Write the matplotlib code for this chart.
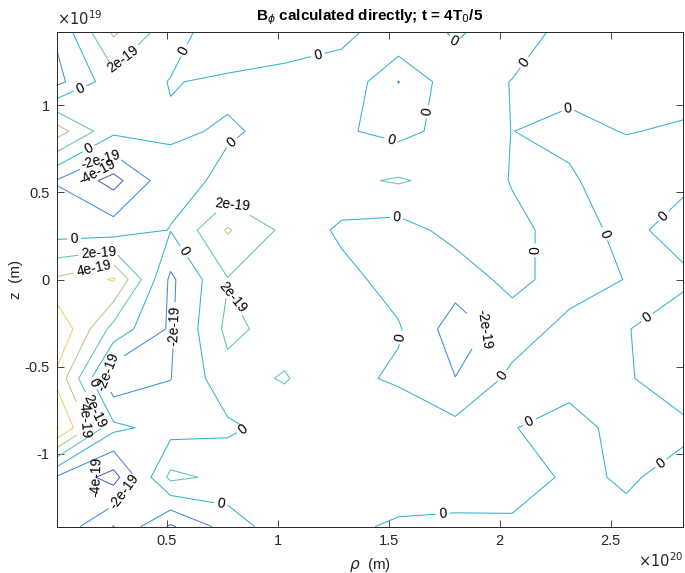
import numpy as np
import matplotlib
matplotlib.use('Agg')
import matplotlib.pyplot as plt
from matplotlib.colors import LinearSegmentedColormap, Normalize
from matplotlib.ticker import FuncFormatter

plt.rcParams['font.family'] = ['Liberation Sans', 'DejaVu Sans']

# grid coordinates (rho in 1e20 m, z in 1e19 m, z listed top to bottom)
rho = [0.002, 0.259, 0.516, 0.773, 1.030, 1.287, 1.544, 1.800, 2.057, 2.314, 2.571, 2.828]
z = [1.42, 1.136, 0.852, 0.568, 0.284, 0.0, -0.284, -0.568, -0.852, -1.136, -1.42]

# B_phi values in units of 1e-19, rows follow z (top to bottom)
B = [
    [-1.7, 4.3, 0.8, -1.2, -1.0, -0.9, 1.9, -0.34, 1.36, -0.9, -0.6, -0.8],
    [-2.6, 1.2, -0.08, 0.25, 0.6, 1.75, -2.05, 1.37, -0.09, -0.54, -0.7, -0.77],
    [5.0, 0.4, 0.19, -0.13, 0.29, 0.245, -0.6, 0.73, -0.02, 0.48, -0.085, 0.23],
    [-2.1, -4.7, -0.5, 0.3, 1.0, 1.57, 2.2, 1.3, -0.1, -0.26, 1.1, 0.3],
    [-1.0, -1.0, 0.06, 4.2, 1.56, -0.39, -0.8, 0.65, 0.4, -0.6, 0.4, -0.6],
    [4.3, 6.2, -2.4, 1.9, 1.0, 0.66, -0.81, -1.1, 0.59, -0.89, 0.06, 0.3],
    [7.9, 1.27, -2.3, 2.5, 1.2, 0.8, 0.19, -3.0, -1.0, 0.59, 0.08, -0.9],
    [5.5, -3.5, -2.05, 1.3, 2.15, 0.55, -0.31, -1.97, 0.49, 0.8, 0.15, -0.85],
    [8.3, 0.48, -0.79, -0.37, 0.82, 1.0, 1.51, 0.59, 0.09, -0.83, 0.8, 0.31],
    [-2.2, -4.8, 2.5, 1.46, 1.0, 1.0, 1.0, 0.9, 1.08, -0.36, 0.185, -0.5],
    [-3.46, 0.1, -4.3, -1.15, 1.25, 0.36, -0.25, -0.35, -0.4, -0.6, -0.375, -0.4],
]
level_units = [-4, -2, 0, 2, 4, 6, 8]

x_ticks = [0.5, 1, 1.5, 2, 2.5]
y_ticks = [-1, -0.5, 0, 0.5, 1]

# approximate contour label positions (data coords)
label_pos = [
    (0.106, 1.103), (0.318, 1.246), (0.566, 1.322), (1.180, 1.293), (1.793, 1.368),
    (2.113, 1.246), (1.671, 0.964), (1.504, 0.774), (2.307, 0.987), (2.736, 0.370),
    (0.792, 0.786), (0.142, 0.763), (0.196, 0.705), (0.792, 0.428),
    (0.083, 0.200), (0.196, 0.122), (0.174, 0.042), (0.571, 0.157), (0.783, -0.108),
    (0.535, -0.264), (1.558, -0.333), (1.536, 0.359), (2.163, 0.168), (2.461, 0.255),
    (1.942, -0.293), (2.032, -0.569), (2.668, -0.224), (2.136, -0.824), (2.731, -1.060),
    (1.744, -1.366), (0.841, -0.858), (0.264, -0.552), (0.165, -0.598), (0.165, -0.760),
    (0.129, -0.812), (0.304, -1.216), (0.746, -1.273),
]
# label of the bottom-left -4e-19 contour (beside the line)
label_pos_small = [(0.150, -1.110)]
# label of the tiny -4e-19 diamond, written beside it (centre, angle)
diamond_label_xy = (0.183, 0.617)
diamond_label_angle = 28

parula_stops = ['#352a87', '#0f5cdd', '#1481d6', '#06a4ca', '#2eb7a4',
                '#87bf77', '#d1bb59', '#fec832', '#f9fb0e']
parula = LinearSegmentedColormap.from_list('parula', parula_stops)

Zarr = np.array(B)[::-1] * 1e-19
zarr = np.array(z)[::-1]
levels = np.array(level_units) * 1e-19

norm = Normalize(vmin=Zarr.min(), vmax=Zarr.max())
line_colors = []
for lv in levels:
    c = np.array(parula(norm(lv))[:3])
    c = c * 0.82 + 0.18
    line_colors.append(tuple(c))

fig = plt.figure(figsize=(6.85, 5.73), dpi=100)
ax = fig.add_axes([0.0825, 0.0808, 0.915, 0.8628])

cs = ax.contour(rho, zarr, Zarr, levels=levels, colors=line_colors, linewidths=0.75)
ax.clabel(cs, fmt='%g', fontsize=10, colors='k', inline=True, inline_spacing=3,
          manual=label_pos)
ax.clabel(cs, levels=[levels[0]], fmt='%g', fontsize=10, colors='k',
          inline=False, manual=label_pos_small)
ax.text(diamond_label_xy[0], diamond_label_xy[1], '%g' % levels[0], fontsize=10,
        color='k', rotation=diamond_label_angle, ha='center', va='center',
        rotation_mode='anchor')

ax.set_xlim(rho[0], rho[-1])
ax.set_ylim(z[-1], z[0])
ax.set_xticks(x_ticks)
ax.set_yticks(y_ticks)
fmt = FuncFormatter(lambda v, p: '%g' % v)
ax.xaxis.set_major_formatter(fmt)
ax.yaxis.set_major_formatter(fmt)

dark = '#262626'
for s in ax.spines.values():
    s.set_color(dark)
    s.set_linewidth(0.7)
ax.tick_params(direction='in', top=True, right=True, length=5, width=0.6,
               colors=dark, labelsize=10.5, pad=5)

ax.text(0.0, 1.008, r'$\times10^{19}$', transform=ax.transAxes, ha='left', va='bottom',
        fontsize=10.5, color=dark)
ax.text(1.0, -0.05, r'$\times10^{20}$', transform=ax.transAxes, ha='right', va='top',
        fontsize=10.5, color=dark)

ax.set_title(r'B$_\phi$ calculated directly; t = 4T$_0$/5', fontsize=11, fontweight='bold',
             color='k', pad=9)
ax.set_xlabel(r'$\rho$  (m)', fontsize=11, color=dark, labelpad=6)
ax.set_ylabel('z  (m)', fontsize=11, color=dark, labelpad=1)

fig.savefig('out.png', dpi=100, facecolor='white')
